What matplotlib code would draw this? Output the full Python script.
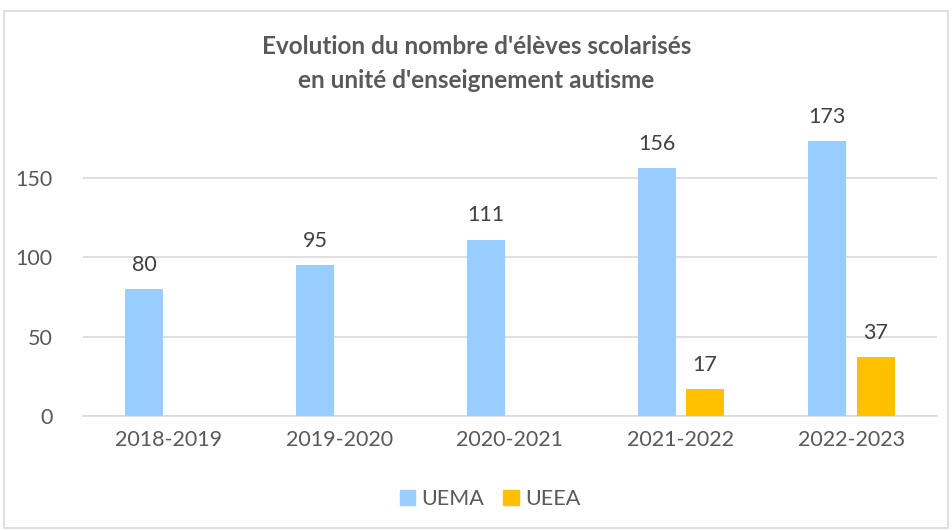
import matplotlib
matplotlib.use("Agg")
import matplotlib.pyplot as plt
from matplotlib.patches import Rectangle
import numpy as np

categories = ["2018-2019", "2019-2020", "2020-2021", "2021-2022", "2022-2023"]
uema = [80, 95, 111, 156, 173]
ueea = [None, None, None, 17, 37]
series_names = ["UEMA", "UEEA"]

plt.rcParams['font.family'] = ['Lato', 'DejaVu Sans']
grey = "#595959"

fig = plt.figure(figsize=(9.53, 5.30), dpi=100)
fig.patches.append(Rectangle((4/953, 2/530), 944/953, 517/530, transform=fig.transFigure,
                             fill=False, edgecolor="#d9d9d9", linewidth=1.2))
ax = fig.add_axes([83/953, (530-416)/530, (937-83)/953, (416-130)/530])

x = np.arange(len(categories))
w = 0.222
off = 0.142
blue = "#99CCFF"
yellow = "#FFC000"
fs = 15.5
for i in range(len(categories)):
    if uema[i] is not None:
        ax.bar(x[i]-off, uema[i], w, color=blue, zorder=3)
        ax.text(x[i]-off, uema[i]+9, str(uema[i]), ha="center", va="bottom",
                fontsize=fs, color="#404040", clip_on=False)
    if ueea[i] is not None:
        ax.bar(x[i]+off, ueea[i], w, color=yellow, zorder=3)
        ax.text(x[i]+off, ueea[i]+9, str(ueea[i]), ha="center", va="bottom",
                fontsize=fs, color="#404040", clip_on=False)

ax.set_xlim(-0.5, len(categories)-0.5)
ax.set_ylim(0, 180)
ax.set_yticks([0, 50, 100, 150])
ax.set_xticks(x)
ax.set_xticklabels(categories)
ax.tick_params(axis="both", length=0, labelsize=fs, labelcolor=grey)
ax.tick_params(axis="y", pad=22)
ax.tick_params(axis="x", pad=10)
ax.grid(axis="y", color="#d9d9d9", linewidth=1.2, zorder=0)
for s in ["top", "right", "left"]:
    ax.spines[s].set_visible(False)
ax.spines["bottom"].set_color("#d9d9d9")
ax.spines["bottom"].set_linewidth(1.2)

fig.text(0.5, 1-47/530, "Evolution du nombre d'élèves scolarisés", ha="center", va="center",
         fontsize=17.5, fontweight="bold", color=grey)
fig.text(0.5, 1-80/530, "en unité d'enseignement autisme", ha="center", va="center",
         fontsize=17.5, fontweight="bold", color=grey)

handles = [Rectangle((0, 0), 1, 1, color=blue), Rectangle((0, 0), 1, 1, color=yellow)]
fig.legend(handles, series_names, loc="center", bbox_to_anchor=(490/953, 1-499/530), ncol=2,
           frameon=False, fontsize=fs, labelcolor=grey, handlelength=0.7, handleheight=0.7,
           handletextpad=0.3, columnspacing=0.9)

fig.savefig("out.png", dpi=100)
